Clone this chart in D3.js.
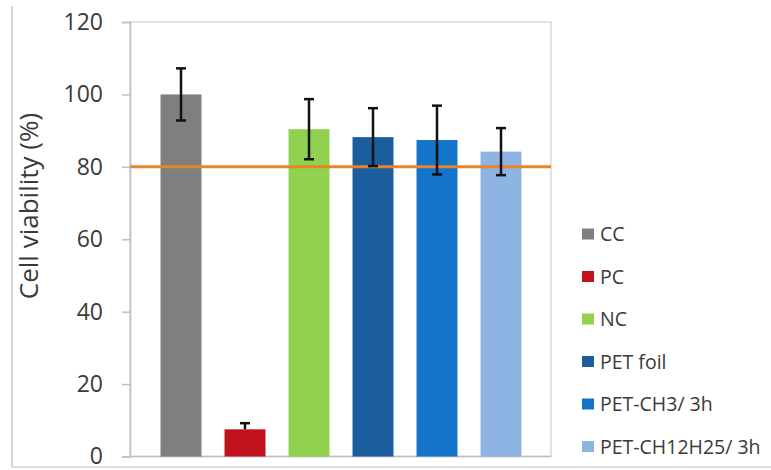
<!DOCTYPE html>
<html>
<head>
<meta charset="utf-8">
<script src="https://cdn.jsdelivr.net/npm/d3@7"></script>
<style>
  html, body { margin: 0; padding: 0; background: #fff; }
  svg { display: block; }
</style>
</head>
<body>
<svg id="chart" width="771" height="470"></svg>
<script>
// Cell viability per sample group (mean and error half-widths, %)
const categories = ["CC", "PC", "NC", "PET foil", "PET-CH3/ 3h", "PET-CH12H25/ 3h"];
const viability  = [100, 7.5, 90.4, 88.2, 87.4, 84.2];
const errUp      = [7.2, 1.7, 8.3, 8.0, 9.5, 6.5];
const errDown    = [7.2, 0, 8.3, 8.0, 9.5, 6.5];
const colors     = ["#7f7f7f", "#c0121c", "#92d050", "#1c5d9e", "#1474cc", "#8db4e2"];
const yTicks     = [0, 20, 40, 60, 80, 100, 120];
const threshold  = 80;

const svg = d3.select("#chart");

const plot = { left: 130, right: 551, top: 22, bottom: 456.5 };

const y = d3.scaleLinear().domain([0, 120]).range([plot.bottom, plot.top]);
const x = d3.scaleBand()
  .domain(categories)
  .range([149, 533])
  .paddingInner(0.36)
  .paddingOuter(0.18);

// outer frame lines
svg.append("line").attr("x1", 12).attr("x2", 12).attr("y1", 6).attr("y2", 467)
  .attr("stroke", "#c8c8c8").attr("stroke-width", 1.5);
svg.append("line").attr("x1", 12).attr("x2", 771).attr("y1", 467).attr("y2", 467)
  .attr("stroke", "#d4d4d4").attr("stroke-width", 1.5);

// plot area border
svg.append("rect")
  .attr("x", plot.left).attr("y", plot.top)
  .attr("width", plot.right - plot.left).attr("height", plot.bottom - plot.top)
  .attr("fill", "none").attr("stroke", "#d9d9d9").attr("stroke-width", 1.5);

// y axis
const yAxis = d3.axisLeft(y).tickValues(yTicks).tickSize(8).tickPadding(19);
const gy = svg.append("g").attr("transform", `translate(${plot.left},0)`).call(yAxis);
gy.select(".domain").attr("stroke", "#bfbfbf").attr("stroke-width", 1.5);
gy.selectAll(".tick line").attr("stroke", "#bfbfbf").attr("stroke-width", 1.5);
gy.selectAll(".tick text")
  .attr("fill", "#3a3a3a")
  .style("font-family", "'Open Sans', sans-serif")
  .style("font-size", "23px");

// x axis baseline
svg.append("line")
  .attr("x1", plot.left).attr("x2", plot.right)
  .attr("y1", y(0)).attr("y2", y(0))
  .attr("stroke", "#bfbfbf").attr("stroke-width", 1.5);

// axis title
svg.append("text")
  .attr("transform", "translate(38,206) rotate(-90)")
  .attr("text-anchor", "middle")
  .attr("fill", "#3a3a3a")
  .style("font-family", "'Open Sans', sans-serif")
  .style("font-size", "26px")
  .text("Cell viability (%)");

// bars
svg.append("g").selectAll("rect")
  .data(categories)
  .join("rect")
  .attr("x", d => x(d))
  .attr("width", x.bandwidth())
  .attr("y", (d, i) => y(viability[i]))
  .attr("height", (d, i) => y(0) - y(viability[i]))
  .attr("fill", (d, i) => colors[i]);

// threshold line
svg.append("line")
  .attr("x1", plot.left).attr("x2", plot.right)
  .attr("y1", y(threshold)).attr("y2", y(threshold))
  .attr("stroke", "#e6852c").attr("stroke-width", 3);

// error bars
const eb = svg.append("g").attr("stroke", "#111").attr("stroke-width", 2.5);
categories.forEach((c, i) => {
  const cx = x(c) + x.bandwidth() / 2;
  const hi = y(viability[i] + errUp[i]);
  const lo = y(viability[i] - errDown[i]);
  eb.append("line").attr("x1", cx).attr("x2", cx).attr("y1", hi).attr("y2", lo);
  eb.append("line").attr("x1", cx - 5).attr("x2", cx + 5).attr("y1", hi).attr("y2", hi);
  if (errDown[i] > 0) {
    eb.append("line").attr("x1", cx - 5).attr("x2", cx + 5).attr("y1", lo).attr("y2", lo);
  }
});

// legend
const legend = svg.append("g").attr("transform", "translate(582,0)");
const rowY = d3.scalePoint().domain(categories).range([234, 446.5]);
const item = legend.selectAll("g")
  .data(categories)
  .join("g")
  .attr("transform", d => `translate(0,${rowY(d)})`);
item.append("rect")
  .attr("x", 0).attr("y", -5.5).attr("width", 12).attr("height", 11)
  .attr("fill", (d, i) => colors[i]);
item.append("text")
  .attr("x", 18).attr("dy", "0.36em")
  .attr("fill", "#3a3a3a")
  .style("font-family", "'Open Sans', sans-serif")
  .style("font-size", "19.5px")
  .text(d => d);
</script>
</body>
</html>
